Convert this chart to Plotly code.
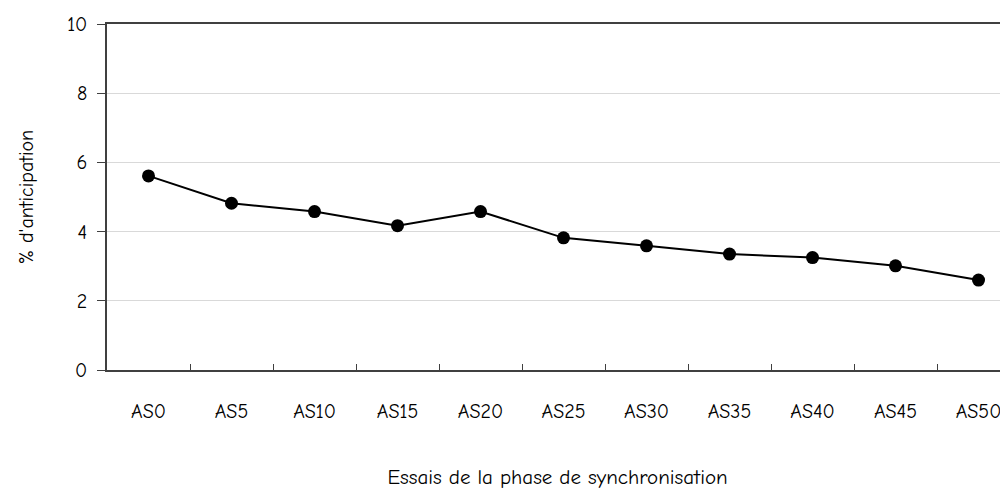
import plotly.graph_objects as go

categories = ["AS0", "AS5", "AS10", "AS15", "AS20", "AS25",
              "AS30", "AS35", "AS40", "AS45", "AS50"]
anticipation = [5.61, 4.82, 4.58, 4.17, 4.58, 3.82, 3.59, 3.35, 3.25, 3.01, 2.60]

font_family = "Comic Sans MS, Comic Neue, Open Sans, sans-serif"

fig = go.Figure(
    go.Scatter(
        x=categories,
        y=anticipation,
        mode="lines+markers",
        line=dict(color="black", width=2),
        marker=dict(color="black", size=13),
        showlegend=False,
        cliponaxis=False,
    )
)

# page body has an 8px default margin, so the figure is sized/shifted to fit
fig.update_layout(
    width=1000,
    height=485,
    margin=dict(l=99, r=0, t=16, b=123),
    plot_bgcolor="white",
    paper_bgcolor="white",
    font=dict(family=font_family, size=20, color="black"),
)

fig.update_xaxes(
    type="category",
    range=[-0.5, 10.355],
    automargin=False,
    tickson="boundaries",
    ticks="inside",
    ticklen=6,
    tickcolor="#404040",
    ticklabelstandoff=22,
    showline=True,
    linecolor="#404040",
    linewidth=1.5,
    mirror=True,
    showgrid=False,
    title=dict(text="Essais de la phase de synchronisation",
               font=dict(size=21), standoff=48),
)

fig.update_yaxes(
    range=[0, 10],
    dtick=2,
    automargin=False,
    ticks="outside",
    ticklen=8,
    tickcolor="#404040",
    ticklabelstandoff=6,
    showline=True,
    linecolor="#404040",
    linewidth=1.5,
    showgrid=True,
    gridcolor="#d9d9d9",
    zeroline=False,
    title=dict(text="% d'anticipation", font=dict(size=20), standoff=28),
)

fig.write_html("out.html")
